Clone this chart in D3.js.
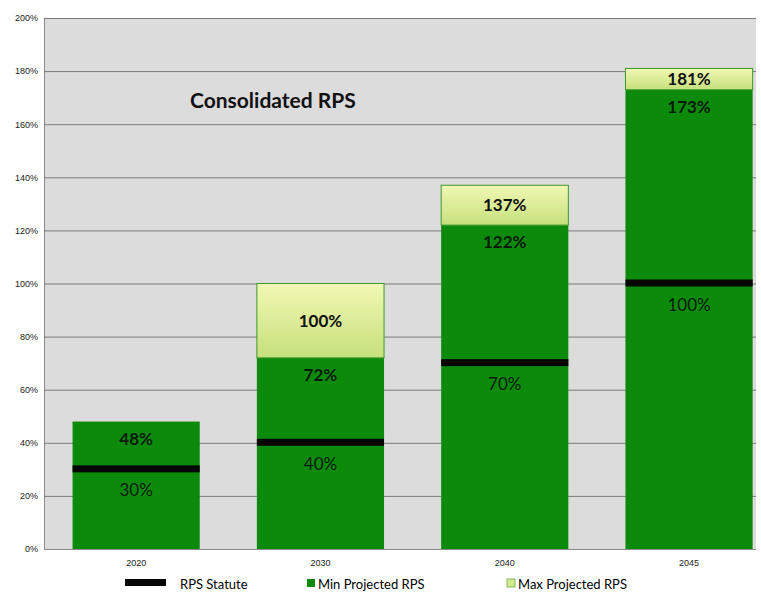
<!DOCTYPE html>
<html>
<head>
<meta charset="utf-8">
<script src="https://cdn.jsdelivr.net/npm/d3@7"></script>
<style>
  body { margin: 0; background: #fff; }
  svg { display: block; font-family: Lato, "Open Sans", sans-serif; }
</style>
</head>
<body>
<div id="chart"></div>
<script>
// chart data
var years = ["2020", "2030", "2040", "2045"];
var statute = [30, 40, 70, 100];
var minProjected = [48, 72, 122, 173];
var maxProjected = [null, 100, 137, 181];
var yTicks = [0, 20, 40, 60, 80, 100, 120, 140, 160, 180, 200];

var width = 761, height = 594;
var plot = { left: 44, right: 756, top: 18, bottom: 549 };

var svg = d3.select("#chart").append("svg")
    .attr("width", width)
    .attr("height", height);

var defs = svg.append("defs");
var grad = defs.append("linearGradient")
    .attr("id", "maxGrad")
    .attr("x1", 0).attr("y1", 0).attr("x2", 0).attr("y2", 1);
grad.append("stop").attr("offset", "0%").attr("stop-color", "#f1f8b4");
grad.append("stop").attr("offset", "100%").attr("stop-color", "#c6e07c");

// band scale runs past the visible plot edge (last bar sits near the right border)
var x = d3.scaleBand()
    .domain(years)
    .range([plot.left, plot.left + 4 * 184.3])
    .paddingInner(0.31)
    .paddingOuter(0.155);

var y = d3.scaleLinear()
    .domain([0, 200])
    .range([plot.bottom, plot.top]);

// plot background
svg.append("rect")
    .attr("x", plot.left)
    .attr("y", plot.top)
    .attr("width", plot.right - plot.left)
    .attr("height", plot.bottom - plot.top)
    .style("fill", "#dddcdc");

// gridlines + y labels
var yAxis = d3.axisLeft(y)
    .tickValues(yTicks)
    .tickSize(-(plot.right - plot.left))
    .tickFormat(function(d) { return d + "%"; });

var gy = svg.append("g")
    .attr("transform", "translate(" + plot.left + ",0)")
    .call(yAxis);
gy.select(".domain").attr("stroke", "#8a8a8a");
gy.selectAll(".tick line").attr("stroke", "#7a7a7a").attr("stroke-width", 1);
gy.selectAll(".tick text")
    .attr("x", -6)
    .style("font-size", "9px")
    .style("fill", "#222");

// bars
var bars = svg.append("g").selectAll("g")
    .data(years)
    .enter().append("g");

// min projected
bars.append("rect")
    .attr("x", function(d) { return x(d); })
    .attr("width", x.bandwidth())
    .attr("y", function(d, i) { return y(minProjected[i]); })
    .attr("height", function(d, i) { return y(0) - y(minProjected[i]); })
    .style("fill", "#0c8a0c");

// max projected (on top of min)
bars.filter(function(d, i) { return maxProjected[i] != null; })
    .append("rect")
    .attr("x", function(d) { return x(d); })
    .attr("width", x.bandwidth())
    .attr("y", function(d) { return y(maxProjected[years.indexOf(d)]); })
    .attr("height", function(d) {
        var i = years.indexOf(d);
        return y(minProjected[i]) - y(maxProjected[i]);
    })
    .style("fill", "url(#maxGrad)")
    .style("stroke", "#3a9a2a")
    .style("stroke-width", 1);

// statute line
bars.append("rect")
    .attr("x", function(d) { return x(d); })
    .attr("width", x.bandwidth())
    .attr("y", function(d, i) { return y(statute[i]) - 4; })
    .attr("height", 7)
    .style("fill", "#050505");

// labels
bars.append("text")
    .attr("x", function(d) { return x(d) + x.bandwidth() / 2; })
    .attr("y", function(d, i) { return y(minProjected[i]) + 23; })
    .attr("text-anchor", "middle")
    .style("font-size", "17px")
    .style("font-weight", "bold")
    .style("fill", "#0a1a0a")
    .text(function(d, i) { return minProjected[i] + "%"; });

bars.filter(function(d, i) { return maxProjected[i] != null; })
    .append("text")
    .attr("x", function(d) { return x(d) + x.bandwidth() / 2; })
    .attr("y", function(d) {
        var i = years.indexOf(d);
        return (y(minProjected[i]) + y(maxProjected[i])) / 2 + 6;
    })
    .attr("text-anchor", "middle")
    .style("font-size", "17px")
    .style("font-weight", "bold")
    .style("fill", "#111")
    .text(function(d) { return maxProjected[years.indexOf(d)] + "%"; });

bars.append("text")
    .attr("x", function(d) { return x(d) + x.bandwidth() / 2; })
    .attr("y", function(d, i) { return y(statute[i]) + 27; })
    .attr("text-anchor", "middle")
    .style("font-size", "17px")
    .style("fill", "#0a1a0a")
    .text(function(d, i) { return statute[i] + "%"; });

// x labels
var xAxis = d3.axisBottom(x).tickSize(0);
var gx = svg.append("g")
    .attr("transform", "translate(0," + plot.bottom + ")")
    .call(xAxis);
gx.select(".domain").remove();
gx.selectAll(".tick text")
    .attr("dy", "1.5em")
    .style("font-size", "9px")
    .style("fill", "#222");
svg.append("line")
    .attr("x1", plot.left).attr("x2", plot.right)
    .attr("y1", plot.bottom + 0.5).attr("y2", plot.bottom + 0.5)
    .attr("stroke", "#8a8a8a");

// title
svg.append("text")
    .attr("x", 190)
    .attr("y", 108)
    .style("font-size", "21px")
    .style("font-weight", "bold")
    .style("fill", "#111")
    .text("Consolidated RPS");

// legend
var legend = svg.append("g").attr("transform", "translate(0,585)");
legend.append("rect")
    .attr("x", 125).attr("y", -6).attr("width", 41).attr("height", 7)
    .style("fill", "#050505");
legend.append("text").attr("x", 180).attr("y", 4)
    .style("font-size", "13px").text("RPS Statute");
legend.append("rect")
    .attr("x", 307).attr("y", -6).attr("width", 8).attr("height", 8)
    .style("fill", "#0c8a0c");
legend.append("text").attr("x", 318).attr("y", 4)
    .style("font-size", "13px").text("Min Projected RPS");
legend.append("rect")
    .attr("x", 507).attr("y", -6).attr("width", 8).attr("height", 8)
    .style("fill", "#d4eb8c").style("stroke", "#6aa84f").style("stroke-width", 0.8);
legend.append("text").attr("x", 518).attr("y", 4)
    .style("font-size", "13px").text("Max Projected RPS");
</script>
</body>
</html>
